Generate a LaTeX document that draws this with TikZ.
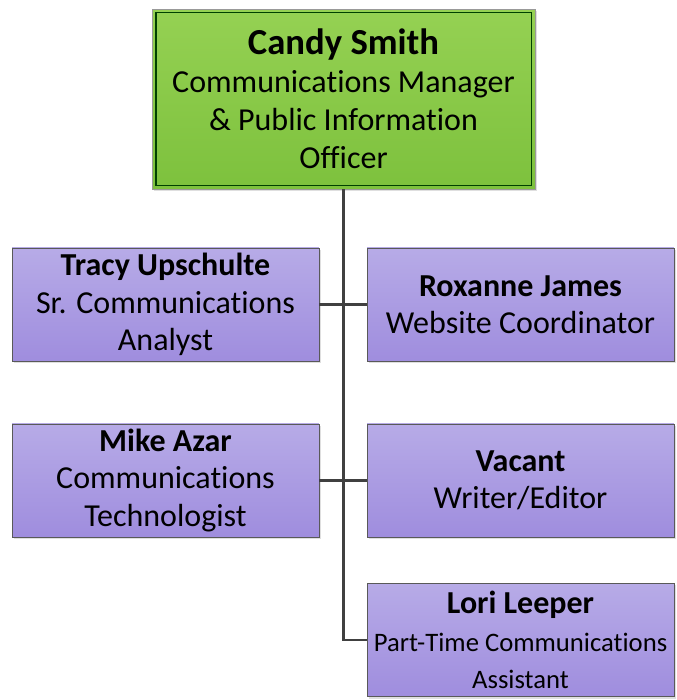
\documentclass[tikz,border=0pt]{standalone}
\usepackage{fontspec}
\setmainfont{Carlito}[Ligatures={NoCommon}]
\usetikzlibrary{shadows}
\definecolor{bossTop}{HTML}{95D153}
\definecolor{bossBot}{HTML}{7DC13D}
\definecolor{staffTop}{HTML}{B7ABE7}
\definecolor{staffBot}{HTML}{9F8DDE}
\definecolor{lineGray}{HTML}{404040}
\begin{document}
\begin{tikzpicture}[x=0.75pt,y=-0.75pt]
	\tikzstyle{boss}=[draw=gray!80,top color=bossTop,bottom color=bossBot,minimum width=287pt,minimum height=135pt,align=center,inner sep=0pt,drop shadow={opacity=0.25,shadow xshift=1.5pt,shadow yshift=-1.5pt},font=\fontsize{24}{28.5}\selectfont];
	\tikzstyle{staff}=[draw=black!65,top color=staffTop,bottom color=staffBot,minimum width=230pt,minimum height=85pt,align=center,inner sep=0pt,drop shadow={opacity=0.25,shadow xshift=1.5pt,shadow yshift=-1.5pt},font=\fontsize{24}{28}\selectfont];
	\tikzstyle{link}=[draw=lineGray,line width=1.7pt];

	\useasboundingbox (0,0) rectangle (676,700);

	\node at (343.5, 99)  (candy)   [boss]  {{\fontsize{27.5}{30}\selectfont\bfseries Candy Smith}\\Communications Manager\\\& Public Information\\Officer};
	\node at (165.5, 304.5) (tracy)   [staff] {{\bfseries Tracy Upschulte}\\Sr. Communications\\Analyst};
	\node at (520.5, 304.5) (roxanne) [staff] {{\bfseries Roxanne James}\\Website Coordinator};
	\node at (165.5, 480.5) (mike)    [staff] {{\bfseries Mike Azar}\\Communications\\Technologist};
	\node at (520.5, 480.5) (vacant)  [staff] {{\bfseries Vacant}\\Writer/Editor};
	\node at (520.5, 640)   (lori)    [staff] {{\bfseries Lori Leeper}\\{\fontsize{20}{28}\selectfont Part-Time Communications}\\{\fontsize{20}{28}\selectfont Assistant}};

	\draw[draw=black!75!green,line width=0.9pt] ([xshift=3pt,yshift=-3pt]candy.north west) rectangle ([xshift=-3pt,yshift=3pt]candy.south east);

	\draw[link] (candy.south) |- (lori.west);
	\draw[link] (tracy.east) -- (roxanne.west);
	\draw[link] (mike.east) -- (vacant.west);
\end{tikzpicture}
\end{document}
